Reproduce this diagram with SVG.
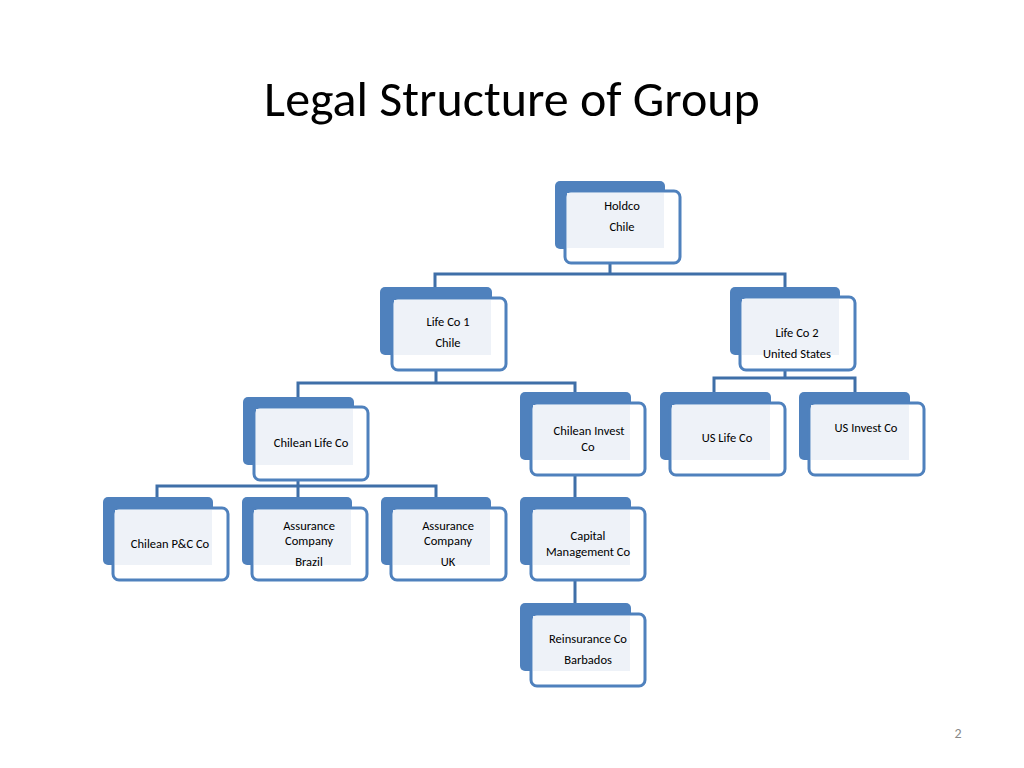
<svg xmlns="http://www.w3.org/2000/svg" width="1024" height="768" viewBox="0 0 1024 768">
<defs><style>
.b{fill:#4f81bd}
.f{fill:#fff;stroke:#4f81bd;stroke-width:3}
.i{fill:#eef2f8}
.c{fill:none;stroke:#3f6fa8;stroke-width:3}
text{font-family:Calibri,"Liberation Sans",sans-serif;font-size:12.5px;fill:#000;text-anchor:middle}
.t{font-size:50px}
</style></defs>
<rect width="1024" height="768" fill="#fff"/>
<text class="t" x="512" y="116">Legal Structure of Group</text>
<g id="connectors">
<path class="c" d="M610 263V274M435 287V274H785V287"/>
<path class="c" d="M436 370V383M298 397V383H575V392"/>
<path class="c" d="M785 370V378M714 392V378H855V392"/>
<path class="c" d="M298 480V486M157 497V486H436V497M298 486V497"/>
<path class="c" d="M575 475V497M575 580V603"/>
</g>
<g id="holdco"><rect class="b" x="555" y="181" width="110" height="68" rx="5"/><rect class="f" x="565" y="191" width="115" height="72" rx="6"/><rect class="i" x="567" y="193" width="97" height="55"/><text x="622" y="210">Holdco</text><text x="622" y="231">Chile</text></g>
<g id="lifeco1"><rect class="b" x="380" y="287" width="112" height="68" rx="5"/><rect class="f" x="392" y="298" width="114" height="72" rx="6"/><rect class="i" x="394" y="300" width="97" height="55"/><text x="448" y="326">Life Co 1</text><text x="448" y="347">Chile</text></g>
<g id="lifeco2"><rect class="b" x="730" y="287" width="110" height="68" rx="5"/><rect class="f" x="740" y="297" width="115" height="73" rx="6"/><rect class="i" x="742" y="299" width="97" height="56"/><text x="797" y="337">Life Co 2</text><text x="797" y="358">United States</text></g>
<g id="chileanlife"><rect class="b" x="243" y="397" width="111" height="68" rx="5"/><rect class="f" x="254" y="407" width="114" height="73" rx="6"/><rect class="i" x="256" y="409" width="97" height="56"/><text x="311" y="447">Chilean Life Co</text></g>
<g id="chileaninvest"><rect class="b" x="520" y="392" width="111" height="68" rx="5"/><rect class="f" x="531" y="403" width="114" height="72" rx="6"/><rect class="i" x="533" y="405" width="97" height="55"/><text x="589" y="435">Chilean  Invest</text><text x="588" y="451">Co</text></g>
<g id="uslife"><rect class="b" x="660" y="392" width="111" height="68" rx="5"/><rect class="f" x="670" y="403" width="115" height="72" rx="6"/><rect class="i" x="672" y="405" width="98" height="55"/><text x="727" y="442">US Life Co</text></g>
<g id="usinvest"><rect class="b" x="799" y="392" width="111" height="68" rx="5"/><rect class="f" x="809" y="403" width="115" height="72" rx="6"/><rect class="i" x="811" y="405" width="98" height="55"/><text x="866" y="432">US Invest Co</text></g>
<g id="chileanpc"><rect class="b" x="103" y="497" width="110" height="68" rx="5"/><rect class="f" x="113" y="508" width="115" height="72" rx="6"/><rect class="i" x="115" y="510" width="97" height="55"/><text x="170" y="548">Chilean P&amp;C Co</text></g>
<g id="brazil"><rect class="b" x="242" y="497" width="110" height="68" rx="5"/><rect class="f" x="252" y="508" width="115" height="72" rx="6"/><rect class="i" x="254" y="510" width="97" height="55"/><text x="309" y="530">Assurance</text><text x="309" y="545">Company</text><text x="309" y="566">Brazil</text></g>
<g id="uk"><rect class="b" x="381" y="497" width="110" height="68" rx="5"/><rect class="f" x="391" y="508" width="115" height="72" rx="6"/><rect class="i" x="393" y="510" width="97" height="55"/><text x="448" y="530">Assurance</text><text x="448" y="545">Company</text><text x="448" y="566">UK</text></g>
<g id="capital"><rect class="b" x="520" y="497" width="111" height="68" rx="5"/><rect class="f" x="531" y="508" width="114" height="72" rx="6"/><rect class="i" x="533" y="510" width="97" height="55"/><text x="588" y="540">Capital</text><text x="588" y="556">Management Co</text></g>
<g id="reinsurance"><rect class="b" x="520" y="603" width="111" height="68" rx="5"/><rect class="f" x="531" y="614" width="114" height="72" rx="6"/><rect class="i" x="533" y="616" width="97" height="55"/><text x="588" y="643">Reinsurance Co</text><text x="588" y="664">Barbados</text></g>
<text x="958" y="738" style="font-size:14px;fill:#888">2</text>
</svg>
